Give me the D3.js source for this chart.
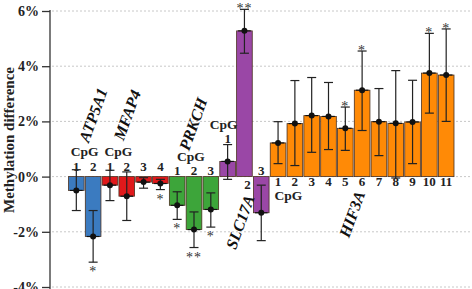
<!DOCTYPE html>
<html><head><meta charset="utf-8">
<script src="https://cdn.jsdelivr.net/npm/d3@7"></script>
<style>body{margin:0;background:#fff}svg{display:block}
svg text{font-family:"Liberation Serif","Times New Roman",serif;}</style>
</head><body>
<script>
// ---- data ----
const barIds = ["ATP5A1-1","ATP5A1-2","MFAP4-1","MFAP4-2","MFAP4-3","MFAP4-4","PRKCH-1","PRKCH-2","PRKCH-3","SLC17A-1","SLC17A-2","SLC17A-3","HIF3A-1","HIF3A-2","HIF3A-3","HIF3A-4","HIF3A-5","HIF3A-6","HIF3A-7","HIF3A-8","HIF3A-9","HIF3A-10","HIF3A-11"];
const genes = ["ATP5A1","ATP5A1","MFAP4","MFAP4","MFAP4","MFAP4","PRKCH","PRKCH","PRKCH","SLC17A","SLC17A","SLC17A","HIF3A","HIF3A","HIF3A","HIF3A","HIF3A","HIF3A","HIF3A","HIF3A","HIF3A","HIF3A","HIF3A"];
const cpgNums = ["1","2","1","2","3","4","1","2","3","1","2","3","1","2","3","4","5","6","7","8","9","10","11"];
const values = [-0.50,-2.17,-0.31,-0.71,-0.20,-0.25,-1.04,-1.92,-1.19,0.55,5.28,-1.31,1.22,1.92,2.21,2.18,1.75,3.13,1.99,1.93,1.98,3.75,3.68];
const errLow = [-1.23,-3.10,-0.87,-1.59,-0.42,-0.47,-1.55,-2.57,-1.83,-0.10,4.47,-2.32,0.47,0.40,0.88,0.98,0.95,1.67,0.76,-0.05,0.47,2.30,2.00];
const errHigh = [0.25,-1.23,0.23,0.17,-0.04,-0.10,-0.55,-1.28,-0.59,1.16,6.06,-0.31,1.99,3.48,3.59,3.41,2.52,4.55,3.19,3.84,3.49,5.19,5.35];
const signif = ["","*","","","","*","*","**","*","","**","","","","","","*","*","","","","*","*"];
const yTicks = [-4,-2,0,2,4,6];
const geneColors = {"ATP5A1":"#3b7bc0","MFAP4":"#e0191b","PRKCH":"#3da53a","SLC17A":"#9a47a6","HIF3A":"#ff8a06"};

// ---- layout ----
const W = 472, H = 289;
const serif = '"Liberation Serif","Times New Roman",serif';
const svg = d3.select("body").append("svg").attr("width", W).attr("height", H);
const x = d3.scaleBand().domain(barIds).range([68.5, 454]).paddingInner(0.07).paddingOuter(0);
const y = d3.scaleLinear().domain([-4, 6]).range([287, 11]);

// grid
svg.append("g").selectAll("line").data(yTicks).join("line")
  .attr("x1", 52).attr("x2", W).attr("y1", d => y(d)).attr("y2", d => y(d))
  .attr("stroke", "#c8c8c8").attr("stroke-width", 1).attr("stroke-dasharray", "2,2");

// axis
const axis = svg.append("g").attr("transform", "translate(50,0)")
  .call(d3.axisLeft(y).tickValues(yTicks).tickFormat(d => d + "%").tickSize(8).tickPadding(3));
axis.attr("font-family", null);
axis.select(".domain").attr("stroke", "#333").attr("stroke-width", 1.3).attr("d", "M0," + (y(6)-1) + "V" + (y(-4)+2));
axis.selectAll(".tick line").attr("stroke", "#333").attr("stroke-width", 1.3);
axis.selectAll(".tick text").style("font-family", serif).style("font-weight", "bold").style("font-size", "14px").attr("fill", "#222");

svg.append("text").attr("transform", "translate(14," + 140 + ") rotate(-90)")
  .attr("text-anchor", "middle").style("font-family", serif).style("font-weight", "bold")
  .style("font-size", "15px").attr("fill", "#222").text("Methylation difference");

const idx = d3.range(barIds.length);
function cx(i) { return x(barIds[i]) + x.bandwidth()/2; }
// bars
svg.append("g").selectAll("rect").data(idx).join("rect")
  .attr("x", i => x(barIds[i])).attr("width", x.bandwidth())
  .attr("y", i => y(Math.max(0, values[i]))).attr("height", i => Math.abs(y(values[i]) - y(0)))
  .attr("fill", i => geneColors[genes[i]]).attr("stroke", "#4a3020").attr("stroke-width", 0.8);

// error bars
const eb = svg.append("g").attr("stroke", "#222").attr("stroke-width", 1.2);
idx.forEach(i => {
  eb.append("line").attr("x1", cx(i)).attr("x2", cx(i)).attr("y1", y(errLow[i])).attr("y2", y(errHigh[i]));
  [errLow[i], errHigh[i]].forEach(v => eb.append("line").attr("x1", cx(i)-4.5).attr("x2", cx(i)+4.5).attr("y1", y(v)).attr("y2", y(v)));
});
svg.append("g").selectAll("circle").data(idx).join("circle")
  .attr("cx", i => cx(i)).attr("cy", i => y(values[i])).attr("r", 3).attr("fill", "#111");
svg.append("g").selectAll("line").data(idx).join("line")
  .attr("x1", i => x(barIds[i]) + 1.5).attr("x2", i => x(barIds[i]) + x.bandwidth() - 1.5)
  .attr("y1", i => y(values[i])).attr("y2", i => y(values[i])).attr("stroke", "#111").attr("stroke-width", 1.2);

// significance
svg.append("g").selectAll("text").data(idx.filter(i => signif[i])).join("text")
  .attr("x", i => cx(i))
  .attr("y", i => values[i] < 0 ? y(errLow[i]) + 14 : y(errHigh[i]) + 4)
  .attr("text-anchor", "middle").style("font-family", serif).style("font-size", "14px").attr("fill", "#333")
  .style("letter-spacing", "1px").text(i => signif[i]);

// CpG numbers
const zeroY = y(0);
function numY(i) {
  const g = genes[i];
  if (g === "ATP5A1" || g === "MFAP4") return zeroY - 6;
  if (g === "PRKCH") return zeroY - 2;
  if (g === "SLC17A") {
    if (cpgNums[i] === "1") return y(errHigh[i]) - 2;
    if (cpgNums[i] === "2") return zeroY + 12;
    return zeroY - 2;
  }
  return zeroY + 9;
}
svg.append("g").selectAll("text").data(idx).join("text")
  .attr("x", i => cx(i) + (genes[i] === "SLC17A" && cpgNums[i] === "2" ? 3 : 0))
  .attr("y", i => numY(i)).attr("text-anchor", "middle")
  .style("font-family", serif).style("font-weight", "bold").style("font-size", "13px").attr("fill", "#222")
  .text(i => cpgNums[i]);

// "CpG" headings
const cpgLabels = [
  {x: (cx(0)+cx(1))/2, y: zeroY - 21},
  {x: (cx(2)+cx(3))/2, y: zeroY - 21},
  {x: cx(7) - 3, y: zeroY - 16},
  {x: cx(9) - 4, y: y(errHigh[9]) - 16},
  {x: (cx(12)+cx(13))/2 + 2, y: zeroY + 23}
];
svg.append("g").selectAll("text").data(cpgLabels).join("text")
  .attr("x", d => d.x).attr("y", d => d.y).attr("text-anchor", "middle")
  .style("font-family", serif).style("font-weight", "bold").style("font-size", "13.5px").attr("fill", "#222")
  .text("CpG");

// gene names
const geneLabels = [
  {t: "ATP5A1", x: 93, y: 115},
  {t: "MFAP4", x: 127, y: 115},
  {t: "PRKCH", x: 193, y: 124},
  {t: "SLC17A", x: 240, y: 222},
  {t: "HIF3A", x: 352, y: 214}
];
svg.append("g").selectAll("text").data(geneLabels).join("text")
  .attr("transform", d => "translate(" + d.x + "," + d.y + ") rotate(-70)")
  .attr("text-anchor", "middle").attr("dy", "0.35em")
  .style("font-family", serif).style("font-weight", "bold").style("font-style", "italic")
  .style("font-size", "16px").attr("fill", "#111").text(d => d.t);
</script>
</body></html>
